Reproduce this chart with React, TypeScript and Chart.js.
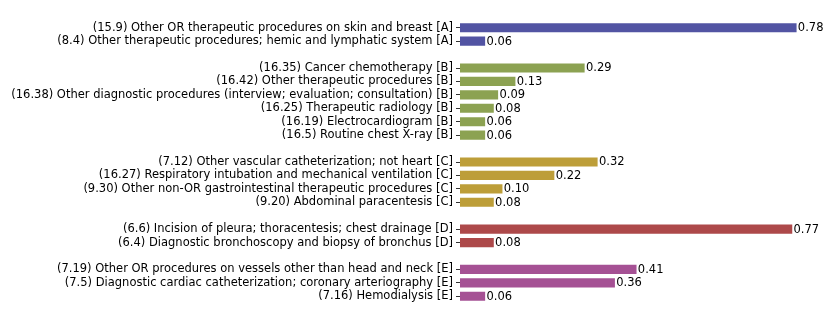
import React, { useEffect, useRef } from "react";
import { Chart, registerables } from "chart.js";

Chart.register(...registerables);

const groupALabels = [
  "(15.9) Other OR therapeutic procedures on skin and breast [A]",
  "(8.4) Other therapeutic procedures; hemic and lymphatic system [A]",
];
const groupAValues = [0.78, 0.06];

const groupBLabels = [
  "(16.35) Cancer chemotherapy [B]",
  "(16.42) Other therapeutic procedures [B]",
  "(16.38) Other diagnostic procedures (interview; evaluation; consultation) [B]",
  "(16.25) Therapeutic radiology [B]",
  "(16.19) Electrocardiogram [B]",
  "(16.5) Routine chest X-ray [B]",
];
const groupBValues = [0.29, 0.13, 0.09, 0.08, 0.06, 0.06];

const groupCLabels = [
  "(7.12) Other vascular catheterization; not heart [C]",
  "(16.27) Respiratory intubation and mechanical ventilation [C]",
  "(9.30) Other non-OR gastrointestinal therapeutic procedures [C]",
  "(9.20) Abdominal paracentesis [C]",
];
const groupCValues = [0.32, 0.22, 0.1, 0.08];

const groupDLabels = [
  "(6.6) Incision of pleura; thoracentesis; chest drainage [D]",
  "(6.4) Diagnostic bronchoscopy and biopsy of bronchus [D]",
];
const groupDValues = [0.77, 0.08];

const groupELabels = [
  "(7.19) Other OR procedures on vessels other than head and neck [E]",
  "(7.5) Diagnostic cardiac catheterization; coronary arteriography [E]",
  "(7.16) Hemodialysis [E]",
];
const groupEValues = [0.41, 0.36, 0.06];

const groupColors = ["#5254a3", "#8ca252", "#bd9e39", "#ad494a", "#a55194"];

const groups = [
  { labels: groupALabels, values: groupAValues },
  { labels: groupBLabels, values: groupBValues },
  { labels: groupCLabels, values: groupCValues },
  { labels: groupDLabels, values: groupDValues },
  { labels: groupELabels, values: groupEValues },
];

const FONT = "'DejaVu Sans', sans-serif";
const FONT_SIZE = 11.5;

export default function App() {
  const ref = useRef<HTMLCanvasElement | null>(null);

  useEffect(() => {
    const labels: string[] = [];
    const values: (number | null)[] = [];
    const colors: string[] = [];
    groups.forEach((g, gi) => {
      if (gi > 0) {
        labels.push("");
        values.push(null);
        colors.push("rgba(0,0,0,0)");
      }
      g.labels.forEach((l, i) => {
        labels.push(l);
        values.push(g.values[i]);
        colors.push(groupColors[gi]);
      });
    });

    const valueLabels = {
      id: "valueLabels",
      afterDatasetsDraw(chart: any) {
        const ctx = chart.ctx;
        const meta = chart.getDatasetMeta(0);
        ctx.save();
        ctx.font = `${FONT_SIZE}px ${FONT}`;
        ctx.fillStyle = "#000";
        ctx.textAlign = "left";
        ctx.textBaseline = "middle";
        meta.data.forEach((bar: any, i: number) => {
          const v = values[i];
          if (v == null) return;
          ctx.fillText(v.toFixed(2), bar.x + 0.5, bar.y + 0.5);
        });
        ctx.restore();
      },
    };

    const chart = new Chart(ref.current!, {
      type: "bar",
      data: {
        labels,
        datasets: [
          {
            data: values,
            backgroundColor: colors,
            borderColor: "rgba(255,255,255,0.3)",
            borderWidth: 0.8,
            categoryPercentage: 1,
            barPercentage: 0.8,
          },
        ],
      },
      options: {
        indexAxis: "y",
        animation: false,
        responsive: false,
        maintainAspectRatio: false,
        layout: { padding: { left: 0, right: 12, top: 21, bottom: 21 } },
        plugins: { legend: { display: false }, tooltip: { enabled: false } },
        scales: {
          x: { display: false, min: 0, max: 0.83 },
          y: {
            offset: true,
            border: { display: false },
            grid: {
              offset: false,
              drawOnChartArea: false,
              drawTicks: true,
              tickLength: 4,
              tickWidth: 1,
              color: (c: any) => (labels[c.index] ? "#333" : "rgba(0,0,0,0)"),
            },
            ticks: {
              padding: 3,
              color: "#000",
              font: { family: FONT, size: FONT_SIZE },
              autoSkip: false,
            },
            afterFit(scale: any) {
              scale.width = 460;
            },
          },
        },
      },
      plugins: [valueLabels],
    });
    return () => chart.destroy();
  }, []);

  return (
    <div style={{ position: "absolute", left: 0, top: 0, width: 831, height: 324, background: "#fff" }}>
      <canvas ref={ref} width={831} height={324} style={{ display: "block" }} />
    </div>
  );
}
